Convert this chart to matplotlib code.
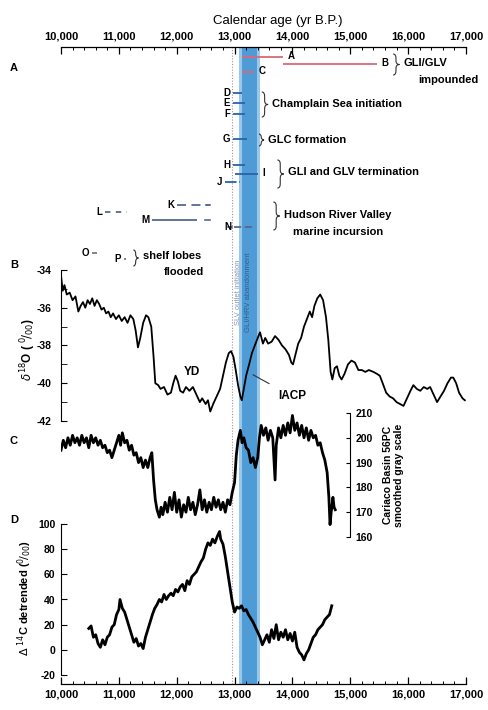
import numpy as np
import matplotlib
matplotlib.use("Agg")
import matplotlib.pyplot as plt
from matplotlib.path import Path
from matplotlib.patches import PathPatch

plt.rcParams['font.family'] = ['Liberation Sans', 'DejaVu Sans']

W, H = 489, 710

# ---- panel B: d18O (per mil) ----
b_age = [10000, 10030, 10060, 10100, 10150, 10200, 10250, 10300, 10340, 10380, 10420, 10460,
         10500, 10540, 10580, 10620, 10660, 10700, 10740, 10780, 10820, 10860, 10900, 10950,
         11000, 11050, 11100, 11150, 11200, 11250, 11290, 11330, 11370, 11420, 11470, 11510,
         11560, 11600, 11630, 11680, 11720, 11780, 11840, 11900, 11940, 11980, 12020, 12060,
         12110, 12160, 12220, 12280, 12340, 12400, 12440, 12500, 12540, 12580, 12630, 12690,
         12750, 12800, 12850, 12900, 12940, 12980, 13020, 13060, 13100, 13125, 13160, 13200,
         13260, 13300, 13350, 13400, 13440, 13490, 13530, 13580, 13640, 13700, 13760, 13820,
         13880, 13940, 13980, 14010, 14060, 14100, 14150, 14200, 14250, 14300, 14340, 14380,
         14430, 14480, 14530, 14580, 14620, 14660, 14690, 14730, 14770, 14810, 14850, 14900,
         14960, 15020, 15080, 15140, 15200, 15260, 15320, 15400, 15460, 15510, 15560, 15620,
         15680, 15740, 15800, 15860, 15920, 15980, 16040, 16090, 16150, 16210, 16270, 16330,
         16380, 16440, 16500, 16560, 16620, 16680, 16740, 16780, 16830, 16880, 16940, 16980]
b_d18o = [-34.3, -35.1, -34.8, -35.3, -35.2, -35.6, -35.4, -36.2, -35.9, -35.7, -36.0, -35.6,
          -35.8, -35.5, -35.9, -35.6, -35.8, -36.1, -36.0, -36.3, -36.2, -36.5, -36.3, -36.6,
          -36.4, -36.7, -36.5, -36.8, -36.4, -36.6, -37.2, -38.1, -37.6, -36.8, -36.4, -36.5,
          -37.0, -38.6, -40.0, -40.1, -40.3, -40.2, -40.6, -40.5, -40.0, -39.6, -39.9, -40.4,
          -40.5, -40.2, -40.4, -40.2, -40.6, -41.0, -40.8, -41.1, -40.9, -41.5, -41.1, -40.7,
          -40.3, -39.6, -38.9, -38.4, -38.3, -38.6, -39.3, -40.1, -40.7, -40.9, -40.3, -39.6,
          -38.9, -38.4, -38.0, -37.6, -37.3, -37.9, -37.6, -37.9, -37.8, -37.5, -37.7, -38.0,
          -38.2, -38.5, -38.9, -39.0, -38.4, -37.9, -37.6, -37.0, -36.6, -36.2, -36.5, -35.9,
          -35.5, -35.3, -35.6, -36.5, -37.7, -39.4, -39.8, -39.2, -39.1, -39.6, -39.8, -39.5,
          -39.0, -38.8, -38.9, -39.3, -39.3, -39.4, -39.3, -39.4, -39.5, -39.6, -40.0, -40.5,
          -40.7, -40.8, -41.0, -41.1, -41.2, -40.8, -40.4, -40.1, -40.3, -40.4, -40.2, -40.3,
          -40.2, -40.6, -41.0, -40.7, -40.4, -40.0, -39.7, -39.7, -40.0, -40.5, -40.8, -40.9]

# ---- panel C: Cariaco Basin 56PC gray scale ----
c_age = [10000, 10040, 10080, 10120, 10160, 10200, 10240, 10280, 10320, 10360, 10400, 10440,
         10480, 10520, 10560, 10600, 10640, 10680, 10720, 10760, 10800, 10840, 10880, 10920,
         10960, 11000, 11030, 11060, 11100, 11140, 11180, 11220, 11260, 11300, 11340, 11380,
         11420, 11460, 11500, 11540, 11570, 11600, 11630, 11660, 11700, 11730, 11760, 11800,
         11840, 11880, 11920, 11960, 12000, 12040, 12080, 12120, 12160, 12200, 12240, 12280,
         12320, 12360, 12400, 12440, 12480, 12520, 12560, 12600, 12640, 12680, 12720, 12760,
         12800, 12840, 12880, 12920, 12960, 13000, 13030, 13060, 13100, 13130, 13160, 13200,
         13240, 13280, 13320, 13360, 13400, 13430, 13460, 13500, 13540, 13580, 13620, 13660,
         13700, 13720, 13760, 13800, 13840, 13880, 13920, 13960, 14000, 14040, 14080, 14120,
         14160, 14200, 14240, 14280, 14320, 14360, 14400, 14440, 14480, 14520, 14560, 14600,
         14630, 14650, 14670, 14700, 14720, 14740]
c_gray = [195, 199, 196, 200, 197, 201, 198, 200, 197, 201, 198, 200,
          196, 201, 198, 200, 197, 199, 196, 197, 194, 195, 192, 195,
          198, 201, 197, 202, 198, 199, 195, 197, 193, 194, 190, 192,
          188, 191, 188, 192, 194, 183, 175, 171, 168, 172, 169, 174,
          170, 176, 171, 178, 170, 175, 168, 173, 170, 176, 171, 174,
          169, 173, 179, 171, 175, 170, 174, 171, 176, 172, 175, 171,
          174, 170, 175, 173, 178, 182, 193, 199, 203, 198, 200, 196,
          195, 190, 192, 188, 192, 200, 205, 201, 204, 199, 203, 200,
          183, 197, 204, 200, 205, 201, 206, 202, 209, 203, 206, 201,
          205, 200, 204, 199, 203, 200, 201, 197, 198, 194, 191, 186,
          176, 165, 170, 176, 172, 171]

# ---- panel D: delta 14C detrended (per mil) ----
d_age = [10480, 10520, 10560, 10600, 10640, 10680, 10720, 10760, 10800, 10840, 10880, 10920,
         10960, 11000, 11020, 11060, 11100, 11140, 11180, 11220, 11260, 11300, 11340, 11380,
         11420, 11460, 11500, 11540, 11580, 11620, 11660, 11700, 11740, 11780, 11820, 11860,
         11900, 11940, 11980, 12020, 12060, 12100, 12140, 12180, 12220, 12260, 12300, 12340,
         12380, 12420, 12460, 12500, 12540, 12580, 12620, 12660, 12700, 12740, 12760, 12800,
         12840, 12880, 12920, 12960, 13000, 13040, 13080, 13120, 13160, 13200, 13240, 13280,
         13320, 13360, 13400, 13440, 13480, 13520, 13560, 13600, 13640, 13680, 13720, 13760,
         13800, 13840, 13880, 13920, 13960, 14000, 14040, 14080, 14120, 14160, 14200, 14240,
         14280, 14320, 14360, 14400, 14440, 14480, 14520, 14560, 14600, 14640, 14680]
d_c14 = [17, 19, 10, 12, 5, 2, 8, 4, 10, 12, 18, 20,
         28, 32, 40, 33, 30, 24, 18, 12, 6, 9, 3, 5,
         1, 10, 16, 22, 28, 33, 36, 40, 38, 44, 40, 43,
         45, 43, 48, 46, 50, 52, 47, 55, 52, 58, 60, 62,
         66, 70, 73, 80, 85, 83, 88, 85, 90, 94, 88, 84,
         74, 62, 50, 38, 30, 34, 33, 35, 31, 32, 28, 25,
         22, 18, 14, 10, 4, 8, 12, 6, 16, 9, 20, 8,
         14, 10, 16, 8, 13, 7, 14, 2, -2, -4, -8, -3,
         0, 5, 10, 12, 16, 18, 20, 24, 26, 28, 35]

# ---- panel A: dated events (ages in yr B.P.) ----
ev_label = ['A', 'B', 'C', 'D', 'E', 'F', 'G', 'H', 'I', 'J', 'K', 'L', 'M', 'N', 'O', 'P']
ev_start = [13128, 13837, 13128, 12973, 12973, 12973, 12973, 12973, 13007, 12834,
            12005, 10760, 11573, 12990, 10536, 11089]
ev_end = [13837, 15462, 13336, 13128, 13180, 13180, 13215, 13180, 13405, 13094,
          12575, 11141, 12350, 13336, 10622, 11123]

# layout of panel A (pixel rows, colours, styles)
ev_row = [57, 64, 72, 93, 103, 114, 139, 165, 174, 182, 205, 212, 220, 227, 253, 259]
ev_side = ['r', 'r', 'r', 'l', 'l', 'l', 'l', 'l', 'r', 'l', 'l', 'l', 'l', 'l', 'l', 'l']
red, blue, slate = '#d86a78', '#2b62a8', '#56698f'
ev_color = [red, red, red, blue, blue, blue, blue, blue, blue, blue,
            slate, slate, slate, slate, '#777777', '#777777']
ev_ls = ['-', '-', '-', '-', '-', '-', '-', '-', '-', '-.',
         (0, (5, 3)), (0, (3, 3)), '-', (0, (4, 2)), '-', '-']

fig = plt.figure(figsize=(W / 100, H / 100), dpi=100)


def rect(x0, y0, x1, y1):
    return [x0 / W, 1 - y1 / H, (x1 - x0) / W, (y1 - y0) / H]


X0, X1 = 61, 466
xlim = (10000, 17000)
fw = 'bold'

# frame axes: top/bottom age axes, band, panel A (y in pixel rows)
ax = fig.add_axes(rect(X0, 47, X1, 684))
ax.set_xlim(*xlim)
ax.set_ylim(684, 47)
for s in ['left', 'right']:
    ax.spines[s].set_visible(False)
for s in ['top', 'bottom']:
    ax.spines[s].set_linewidth(0.9)
ax.set_yticks([])
majors = list(range(10000, 17001, 1000))
ax.set_xticks(majors)
ax.set_xticks(range(10000, 17001, 200), minor=True)
ax.set_xticklabels([f'{m:,}' for m in majors], fontsize=8, fontweight=fw)
ax.tick_params(axis='x', which='both', direction='in', top=True, bottom=True,
               labeltop=True, labelbottom=True)
ax.tick_params(axis='x', which='major', length=5, width=0.9)
ax.tick_params(axis='x', which='minor', length=2.5, width=0.7)
ax.tick_params(axis='x', which='major', pad=4)
ax.text(13750, 47 - 26, 'Calendar age (yr B.P.)', ha='center', va='center', fontsize=9.5)
ax.axvspan(13080, 13435, color='#98c9ec', lw=0, zorder=0)
ax.axvspan(13130, 13385, color='#4f9bd6', lw=0, zorder=0)
ax.axvline(12955, color='#999999', lw=0.8, ls=(0, (1, 1.5)), zorder=0.5)

# band texts
ax.text(13060, 292, 'SLV outlet initiation', rotation=90, ha='center', va='center',
        fontsize=5.5, color='#8a96a8')
ax.text(13235, 292, 'GLI/HRV abandonment', rotation=90, ha='center', va='center',
        fontsize=5.5, color='#2f5f8f')

# events
for lab, s, e, r, side, c, ls in zip(ev_label, ev_start, ev_end, ev_row, ev_side, ev_color, ev_ls):
    ax.plot([s, e], [r, r], color=c, lw=1.3, ls=ls, solid_capstyle='butt')
    if side == 'r':
        ax.text(e + 80, r - 1, lab, ha='left', va='center', fontsize=7, fontweight=fw)
    else:
        ax.text(s - 50, r, lab, ha='right', va='center', fontsize=7, fontweight=fw)
# extra short dashes on K, M and N rows
ax.plot([12500, 12575], [205, 205], color=slate, lw=1.2)
ax.plot([12490, 12575], [220, 220], color=slate, lw=1.2)
ax.plot([12890, 12960], [227, 227], color=slate, lw=1.2)


def brace(x, y0, y1, w=110):
    ym = (y0 + y1) / 2
    h = w * 0.45
    r = min(4.0, (y1 - y0) / 4)
    verts = [(x, y0), (x + h, y0), (x + h, y0 + r), (x + h, y0 + r),
             (x + h, ym - r), (x + h, ym), (x + w, ym), (x + w, ym),
             (x + h, ym), (x + h, ym + r), (x + h, ym + r),
             (x + h, y1 - r), (x + h, y1), (x, y1)]
    codes = [Path.MOVETO, Path.CURVE3, Path.CURVE3, Path.LINETO,
             Path.LINETO, Path.CURVE3, Path.CURVE3, Path.MOVETO,
             Path.CURVE3, Path.CURVE3, Path.LINETO,
             Path.LINETO, Path.CURVE3, Path.CURVE3]
    ax.add_patch(PathPatch(Path(verts, codes), fc='none', ec='#333333', lw=0.8))


brace(15740, 54, 75)
ax.text(15920, 63, 'GLI/GLV', ha='left', va='center', fontsize=8, fontweight=fw)
ax.text(16700, 80, 'impounded', ha='center', va='center', fontsize=8, fontweight=fw)
brace(13470, 92, 117)
ax.text(13650, 104, 'Champlain Sea initiation', ha='left', va='center', fontsize=8, fontweight=fw)
brace(13420, 134, 146, w=90)
ax.text(13580, 140, 'GLC formation', ha='left', va='center', fontsize=8, fontweight=fw)
brace(13740, 160, 188)
ax.text(13920, 172, 'GLI and GLV termination', ha='left', va='center', fontsize=8, fontweight=fw)
brace(13670, 202, 230)
ax.text(13850, 215, 'Hudson River Valley', ha='left', va='center', fontsize=8, fontweight=fw)
ax.text(14790, 232, 'marine incursion', ha='center', va='center', fontsize=8, fontweight=fw)
brace(11250, 250, 266, w=90)
ax.text(11420, 256, 'shelf lobes', ha='left', va='center', fontsize=8, fontweight=fw)
ax.text(12130, 272, 'flooded', ha='center', va='center', fontsize=8, fontweight=fw)

# panel letters
for lab, yy in zip(['A', 'B', 'C', 'D'], [68, 265, 441, 520]):
    fig.text(14 / W, 1 - yy / H, lab, ha='center', va='center', fontsize=8, fontweight=fw)


def data_axes(y0, y1):
    a = fig.add_axes(rect(X0, y0, X1, y1))
    a.set_xlim(*xlim)
    a.patch.set_alpha(0)
    a.set_xticks([])
    for s in ['top', 'bottom', 'left', 'right']:
        a.spines[s].set_visible(False)
    return a


# panel B
axb = data_axes(270, 421)
axb.set_ylim(-42, -34)
axb.plot(b_age, b_d18o, color='black', lw=1.3)
axb.spines['left'].set_visible(True)
axb.spines['left'].set_bounds(-42, -34)
axb.set_yticks([-34, -36, -38, -40, -42])
axb.set_yticklabels(['-34', '-36', '-38', '-40', '-42'], fontsize=7.5, fontweight=fw)
axb.set_yticks([-35, -37, -39, -41], minor=True)
axb.tick_params(axis='y', which='both', direction='in', length=4, pad=7)
fig.text(28 / W, 1 - 350 / H, r'$\delta^{18}$O ( $^0\!/_{00}$)', rotation=90,
         ha='center', va='center', fontsize=8.5, fontweight=fw)
axb.text(12265, -39.4, 'YD', ha='center', va='center', fontsize=8.5, fontweight=fw)
axb.annotate('IACP', xy=(13318, -39.55), xytext=(14000, -40.7), ha='center', va='center',
             fontsize=8.5, fontweight=fw,
             arrowprops=dict(arrowstyle='-', color='#333333', lw=0.8, shrinkA=6, shrinkB=0))

# panel C
axc = data_axes(413, 537)
axc.set_ylim(160, 210)
axc.plot(c_age, c_gray, color='black', lw=2.0)
axc.spines['right'].set_visible(True)
axc.spines['right'].set_position(('data', 15000))
axc.spines['right'].set_bounds(160, 210)
axc.yaxis.tick_right()
axc.set_yticks([160, 170, 180, 190, 200, 210])
axc.set_yticklabels(['160', '170', '180', '190', '200', '210'], fontsize=7.5, fontweight=fw)
axc.tick_params(axis='y', direction='in', length=3, pad=4)
axc.text(15750, 185, 'Cariaco Basin 56PC\nsmoothed gray scale', rotation=90,
         ha='center', va='center', fontsize=7.5, fontweight=fw, linespacing=1.1)

# panel D
axd = data_axes(524, 675)
axd.set_ylim(-20, 100)
axd.plot(d_age, d_c14, color='black', lw=2.0)
axd.spines['left'].set_visible(True)
axd.spines['left'].set_bounds(-20, 100)
axd.set_yticks([-20, 0, 20, 40, 60, 80, 100])
axd.set_yticklabels(['-20', '0', '20', '40', '60', '80', '100'], fontsize=7.5, fontweight=fw)
axd.tick_params(axis='y', direction='in', length=4, pad=4)
fig.text(25 / W, 1 - 598 / H, r'$\Delta$ $^{14}$C detrended ($^0\!/_{00}$)', rotation=90,
         ha='center', va='center', fontsize=8, fontweight=fw)

fig.savefig('out.png', dpi=100)
